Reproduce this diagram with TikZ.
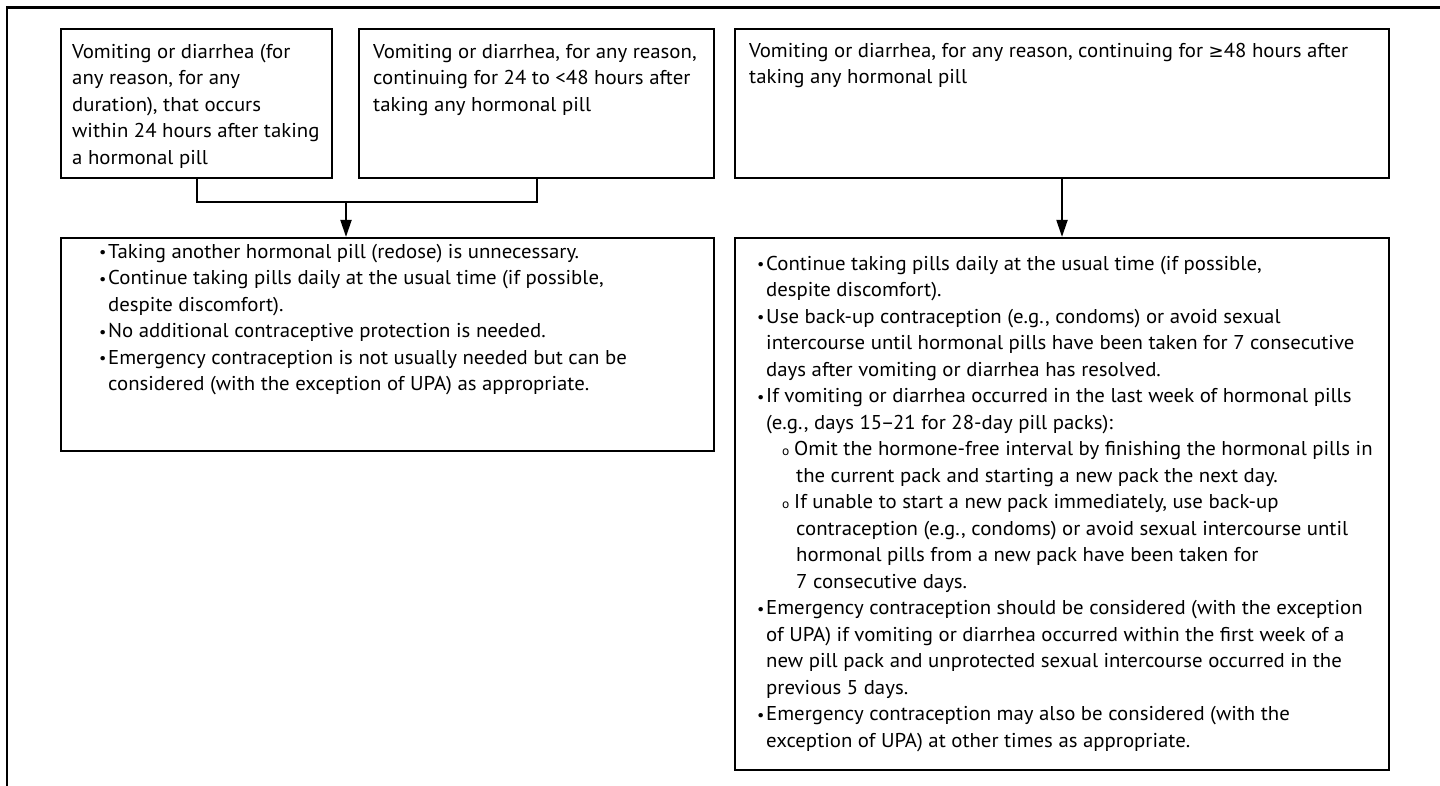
\documentclass[tikz,border=0pt]{standalone}
\usepackage{fontspec}
\setmainfont{PT Sans}[FakeStretch=1.04]
\newfontfamily\dv{DejaVu Sans}
\usetikzlibrary{arrows.meta}
\newcommand\bul{\makebox[9pt][l]{\raisebox{0.5pt}{\scalebox{0.78}{•}}}}
\newcommand\cont{\hspace*{9pt}}
\newcommand\subb{\hspace*{25pt}\makebox[12pt][l]{\fontsize{13}{13}\selectfont o}}
\newcommand\subc{\hspace*{39pt}}
\newcommand\fs{\rule{0pt}{20pt}}
\newcommand\gesym{{\dv\fontsize{18}{18}\selectfont ≥}}
\newcommand\ndash{\kern-1.5pt–\kern-1.5pt}
\begin{document}
\begin{tikzpicture}[x=1pt,y=-1pt,
  box/.style={draw, line width=2.2pt, inner sep=0pt},
  txt/.style={anchor=north west, inner sep=0pt, align=left, font=\fontsize{20}{26.5}\selectfont},
  conn/.style={line width=2pt},
  arr/.style={line width=2pt, -{Triangle[length=17pt,width=11pt]}}]
\useasboundingbox (0,0) rectangle (1440,786);
\draw[line width=2.6pt] (7,786) -- (7,7.5) -- (1440,7.5);
% boxes
\node[box, minimum width=271pt, minimum height=149pt] (a) at (196.5,103.5) {};
\node[box, minimum width=355pt, minimum height=149pt] (b) at (536.5,103.5) {};
\node[box, minimum width=654pt, minimum height=149pt] (c) at (1062,103.5) {};
\node[box, minimum width=653pt, minimum height=213pt] (d) at (387.5,344.5) {};
\node[box, minimum width=654pt, minimum height=532pt] (e) at (1062,504) {};
% texts
\node[txt] (ta) at (72,38) {\fs Vomiting or diarrhea (for\\any reason, for any\\duration), that occurs\\within 24 hours after taking\\a hormonal pill};
\node[txt] (tb) at (373,38) {\fs Vomiting or diarrhea, for any reason,\\continuing for 24 to <48 hours after\\taking any hormonal pill};
\node[txt] (tc) at (749,37) {\fs Vomiting or diarrhea, for any reason, continuing for \gesym48 hours after\\taking any hormonal pill};
\node[txt] (td) at (99,238) {\fs\bul Taking another hormonal pill (redose) is unnecessary.\\
\bul Continue taking pills daily at the usual time (if possible,\\
\cont despite discomfort).\\
\bul No additional contraceptive protection is needed.\\
\bul Emergency contraception is not usually needed but can be\\
\cont considered (with the exception of UPA) as appropriate.};
\node[txt] (te) at (757,250) {\fs\bul Continue taking pills daily at the usual time (if possible,\\
\cont despite discomfort).\\
\bul Use back-up contraception (e.g., condoms) or avoid sexual\\
\cont intercourse until hormonal pills have been taken for 7 consecutive\\
\cont days after vomiting or diarrhea has resolved.\\
\bul If vomiting or diarrhea occurred in the last week of hormonal pills\\
\cont (e.g., days 15\ndash21 for 28-day pill packs):\\
\subb Omit the hormone-free interval by finishing the hormonal pills in\\
\subc the current pack and starting a new pack the next day.\\
\subb If unable to start a new pack immediately, use back-up\\
\subc contraception (e.g., condoms) or avoid sexual intercourse until\\
\subc hormonal pills from a new pack have been taken for\\
\subc 7 consecutive days.\\
\bul Emergency contraception should be considered (with the exception\\
\cont of UPA) if vomiting or diarrhea occurred within the first week of a\\
\cont new pill pack and unprotected sexual intercourse occurred in the\\
\cont previous 5 days.\\
\bul Emergency contraception may also be considered (with the\\
\cont exception of UPA) at other times as appropriate.};
% connectors
\coordinate (j) at (346,202);
\draw[conn] (a.south) -- (a.south |- j) -- (b.south |- j) -- (b.south);
\draw[arr] (j) -- (j |- d.north);
\draw[arr] (c.south) -- (e.north);
\end{tikzpicture}
\end{document}
